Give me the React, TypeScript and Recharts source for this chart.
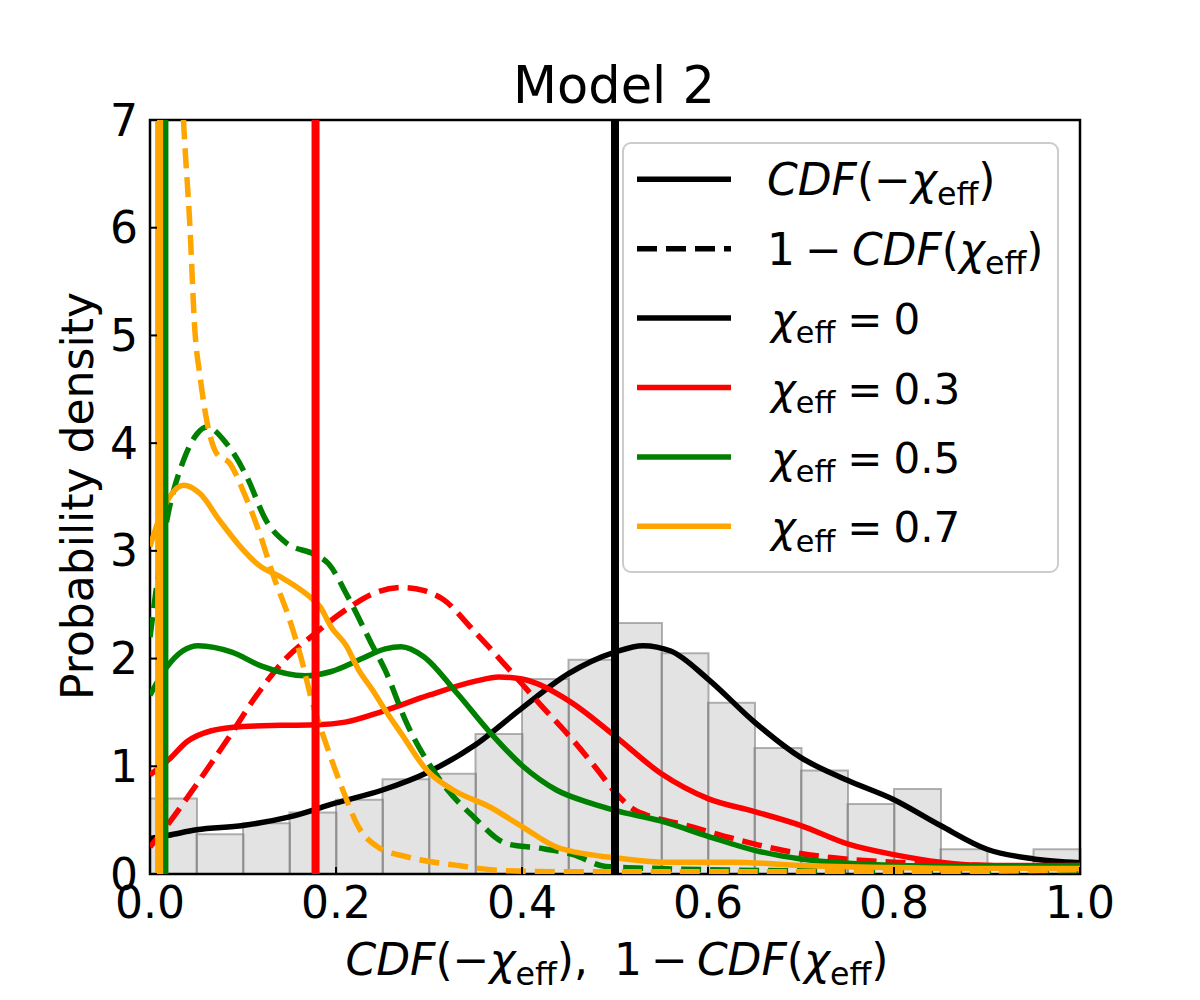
import React from 'react';
import { BarChart, Bar, ComposedChart, Line, XAxis, YAxis, CartesianGrid, ReferenceArea } from 'recharts';

// histogram of the observed values (bins of width 0.05)
const binCenters = [0.025, 0.075, 0.125, 0.175, 0.225, 0.275, 0.325, 0.375, 0.425, 0.475, 0.525, 0.575, 0.625, 0.675, 0.725, 0.775, 0.825, 0.875, 0.925, 0.975];
const binHeights = [0.7, 0.37, 0.47, 0.57, 0.69, 0.88, 0.93, 1.3, 1.81, 1.99, 2.33, 2.05, 1.59, 1.17, 0.96, 0.65, 0.79, 0.23, 0, 0.23];

const xTicks = [0, 0.2, 0.4, 0.6, 0.8, 1.0];
const yTicks = [0, 1, 2, 3, 4, 5, 6, 7];

// KDE curves, [x, density]
const chi0Solid: [number, number][] = [
  [0, 0.33], [0.02, 0.36], [0.05, 0.41], [0.1, 0.45], [0.15, 0.53], [0.2, 0.66], [0.25, 0.78], [0.3, 0.95],
  [0.35, 1.2], [0.4, 1.54], [0.45, 1.86], [0.5, 2.06], [0.53, 2.12], [0.56, 2.07], [0.6, 1.81], [0.65, 1.41],
  [0.7, 1.08], [0.75, 0.87], [0.8, 0.69], [0.85, 0.45], [0.9, 0.23], [0.95, 0.14], [1.0, 0.105],
];
const chi3Solid: [number, number][] = [
  [0, 0.92], [0.02, 1.06], [0.04, 1.23], [0.066, 1.33], [0.1, 1.37], [0.14, 1.38], [0.18, 1.385], [0.21, 1.41],
  [0.25, 1.51], [0.3, 1.66], [0.35, 1.79], [0.375, 1.83], [0.4, 1.81], [0.45, 1.61], [0.5, 1.28], [0.55, 0.93],
  [0.6, 0.7], [0.65, 0.58], [0.7, 0.45], [0.75, 0.28], [0.8, 0.18], [0.85, 0.11], [0.9, 0.08], [0.95, 0.08], [1.0, 0.08],
];
const chi3Dashed: [number, number][] = [
  [0, 0.25], [0.02, 0.47], [0.041, 0.72], [0.066, 1.03], [0.088, 1.31], [0.113, 1.64], [0.145, 1.99], [0.177, 2.23],
  [0.21, 2.45], [0.245, 2.62], [0.272, 2.66], [0.295, 2.63], [0.315, 2.55], [0.348, 2.26], [0.384, 1.92], [0.419, 1.58],
  [0.455, 1.24], [0.48, 0.98], [0.5, 0.76], [0.52, 0.6], [0.54, 0.53], [0.573, 0.46], [0.627, 0.33], [0.68, 0.22],
  [0.735, 0.15], [0.8, 0.11], [0.85, 0.09], [0.9, 0.08], [0.95, 0.07], [1.0, 0.07],
];
const chi5Solid: [number, number][] = [
  [0, 1.66], [0.018, 1.92], [0.035, 2.07], [0.052, 2.12], [0.088, 2.06], [0.12, 1.93], [0.167, 1.84], [0.195, 1.88],
  [0.228, 2.0], [0.253, 2.09], [0.27, 2.11], [0.294, 2.02], [0.33, 1.68], [0.366, 1.31], [0.401, 1.0], [0.437, 0.78],
  [0.473, 0.66], [0.5, 0.59], [0.55, 0.49], [0.6, 0.35], [0.65, 0.22], [0.7, 0.14], [0.75, 0.1], [0.8, 0.08], [0.9, 0.07], [1.0, 0.08],
];
const chi5Dashed: [number, number][] = [
  [0, 2.2], [0.018, 3.28], [0.036, 3.84], [0.05, 4.08], [0.061, 4.15], [0.082, 4.0], [0.104, 3.69], [0.125, 3.28],
  [0.147, 3.07], [0.176, 2.97], [0.192, 2.88], [0.213, 2.57], [0.238, 2.14], [0.253, 1.89], [0.276, 1.4], [0.312, 0.87],
  [0.348, 0.53], [0.384, 0.28], [0.419, 0.24], [0.455, 0.18], [0.49, 0.07], [0.55, 0.05], [0.6, 0.04], [0.7, 0.03],
  [0.8, 0.03], [0.9, 0.03], [1.0, 0.03],
];
const chi7Solid: [number, number][] = [
  [0, 3.04], [0.01, 3.3], [0.021, 3.5], [0.036, 3.61], [0.054, 3.53], [0.075, 3.28], [0.097, 3.04], [0.118, 2.86],
  [0.14, 2.76], [0.168, 2.6], [0.183, 2.48], [0.195, 2.29], [0.211, 2.12], [0.224, 1.9], [0.24, 1.7], [0.253, 1.52],
  [0.269, 1.32], [0.298, 0.96], [0.326, 0.78], [0.366, 0.62], [0.4, 0.44], [0.437, 0.25], [0.473, 0.18], [0.5, 0.15],
  [0.55, 0.11], [0.627, 0.11], [0.7, 0.08], [0.8, 0.06], [0.9, 0.05], [1.0, 0.05],
];
const chi7Dashed: [number, number][] = [
  [0, 14], [0.015, 11], [0.03, 8.2], [0.036, 7.0], [0.043, 6.0], [0.048, 5.08], [0.054, 4.61], [0.061, 4.21],
  [0.072, 3.9], [0.086, 3.81], [0.1, 3.56], [0.118, 3.16], [0.133, 2.76], [0.149, 2.39], [0.163, 1.99], [0.174, 1.61],
  [0.188, 1.24], [0.206, 0.81], [0.224, 0.44], [0.245, 0.25], [0.276, 0.16], [0.33, 0.08], [0.384, 0.03], [0.45, 0.02],
  [0.6, 0.02], [0.8, 0.02], [1.0, 0.04],
];

// observed value for each chi_eff
const chiLabels = ['0', '0.3', '0.5', '0.7'];
const chiColors = ['#000000', '#ff0000', '#008000', '#ffa500'];
const observedP = [0.5, 0.178, 0.0155, 0.0098];

const curves = [
  { pts: chi0Solid, color: chiColors[0], dashed: false },
  { pts: chi3Solid, color: chiColors[1], dashed: false },
  { pts: chi3Dashed, color: chiColors[1], dashed: true },
  { pts: chi5Solid, color: chiColors[2], dashed: false },
  { pts: chi5Dashed, color: chiColors[2], dashed: true },
  { pts: chi7Solid, color: chiColors[3], dashed: false },
  { pts: chi7Dashed, color: chiColors[3], dashed: true },
];

const W = 1200;
const H = 1000;
const margin = { top: 120, right: 120, left: 0, bottom: 0 };
const FONT = 'DejaVu Sans';
const DASH = '20 9';
const tickStyle = { fontSize: 44, fill: '#000', fontFamily: FONT };

type Tok = { t: string; it?: boolean; sub?: boolean; dx?: number };

function MathText({ toks, size, x, y, anchor, subScale = 0.72 }: { toks: Tok[]; size: number; x: number; y: number; anchor?: string; subScale?: number }) {
  const subDy = size * 0.22;
  let shift = 0;
  return (
    <text x={x} y={y} fontSize={size} fontFamily={FONT} fill="#000" textAnchor={anchor || 'start'}>
      {toks.map((k, i) => {
        const target = k.sub ? subDy : 0;
        const dy = target - shift;
        shift = target;
        return (
          <tspan key={i} dy={dy || undefined} dx={k.dx} fontStyle={k.it ? 'italic' : undefined} fontSize={k.sub ? size * subScale : undefined}>
            {k.t}
          </tspan>
        );
      })}
    </text>
  );
}

const chiEff: Tok[] = [{ t: 'χ', it: true }, { t: 'eff', sub: true }];
const cdfNeg: Tok[] = [{ t: 'CDF', it: true }, { t: '(−' }, ...chiEff, { t: ')' }];
const oneMinus = (gap: number): Tok[] => [{ t: '1' }, { t: '−', dx: gap }, { t: 'CDF', it: true, dx: gap }, { t: '(' }, ...chiEff, { t: ')' }];

const legendRows = [
  { toks: cdfNeg, color: '#000', dashed: false, x: 767, size: 44 },
  { toks: oneMinus(10), color: '#000', dashed: true, x: 767, size: 44 },
  ...chiLabels.map((v, i) => ({
    toks: [...chiEff, { t: '=', dx: 12 }, { t: v, dx: 11 }] as Tok[],
    color: chiColors[i],
    dashed: false,
    x: 771,
    size: 42,
  })),
];

function Histogram() {
  const data = binCenters.map((x, i) => ({ x, h: binHeights[i] }));
  return (
    <BarChart width={W} height={H} data={data} margin={margin} barCategoryGap={0} barGap={0}>
      <CartesianGrid stroke="#b0b0b0" strokeWidth={2} />
      <XAxis dataKey="x" type="number" domain={[0, 1]} ticks={xTicks} height={126} tick={false} axisLine={false} tickLine={false} />
      <YAxis type="number" domain={[0, 7]} ticks={yTicks} width={150} tick={false} axisLine={false} tickLine={false} />
      <Bar dataKey="h" fill="#808080" fillOpacity={0.22} stroke="#808080" strokeOpacity={0.6} strokeWidth={2} isAnimationActive={false} />
    </BarChart>
  );
}

function Curves() {
  return (
    <ComposedChart width={W} height={H} margin={margin}>
      <XAxis
        dataKey="x" type="number" domain={[0, 1]} ticks={xTicks} interval={0} height={126} allowDataOverflow
        tickFormatter={(v: number) => v.toFixed(1)} tick={tickStyle} axisLine={false}
        tickLine={{ stroke: '#000', strokeWidth: 2 }} tickSize={-7} tickMargin={20}
      />
      <YAxis
        type="number" domain={[0, 7]} ticks={yTicks} interval={0} width={150} allowDataOverflow
        tick={tickStyle} axisLine={false} tickLine={{ stroke: '#000', strokeWidth: 2 }} tickSize={-7} tickMargin={19}
      />
      {curves.map((c, i) => (
        <Line
          key={`c${i}`} data={c.pts.map(([x, y]) => ({ x, y }))} dataKey="y" type="monotone"
          stroke={c.color} strokeWidth={5.5} strokeDasharray={c.dashed ? DASH : undefined}
          dot={false} activeDot={false} isAnimationActive={false}
        />
      ))}
      {observedP.map((p, i) => (
        <Line
          key={`v${i}`} data={[{ x: p, y: 0 }, { x: p, y: 7 }]} dataKey="y" type="linear"
          stroke={chiColors[i]} strokeWidth={8} dot={false} activeDot={false} isAnimationActive={false}
        />
      ))}
      <ReferenceArea x1={0} x2={1} y1={0} y2={7} fill="none" stroke="#000" strokeWidth={2.5} />
    </ComposedChart>
  );
}

function Overlay() {
  const rowY0 = 179.3;
  const rowStep = 69.4;
  return (
    <svg width={W} height={H} style={{ position: 'absolute', left: 0, top: 0, pointerEvents: 'none' }}>
      <text x={614} y={103} fontSize={51} fontFamily={FONT} textAnchor="middle" fill="#000">Model 2</text>
      <text transform="translate(93,496) rotate(-90)" fontSize={44} fontFamily={FONT} textAnchor="middle" fill="#000">
        Probability density
      </text>
      <MathText
        x={617} y={975} size={44} anchor="middle"
        toks={[...cdfNeg, { t: ',' }, ...oneMinus(9).map((k, i) => (i === 0 ? { ...k, dx: 26 } : k))]}
      />
      <rect x={623} y={143} width={435} height={429} rx={8} fill="#fff" fillOpacity={0.8} stroke="#cccccc" strokeWidth={2} />
      {legendRows.map((r, i) => {
        const cy = rowY0 + i * rowStep;
        return (
          <g key={i}>
            <line x1={637} x2={731} y1={cy} y2={cy} stroke={r.color} strokeWidth={5.5} strokeDasharray={r.dashed ? DASH : undefined} />
            <MathText x={r.x} y={cy + 16} size={r.size} subScale={0.72} toks={r.toks} />
          </g>
        );
      })}
    </svg>
  );
}

export default function App() {
  return (
    <div style={{ position: 'absolute', left: 0, top: 0, width: W, height: H, background: '#fff' }}>
      <div style={{ position: 'absolute', left: 0, top: 0 }}>
        <Histogram />
      </div>
      <div style={{ position: 'absolute', left: 0, top: 0 }}>
        <Curves />
      </div>
      <Overlay />
    </div>
  );
}
